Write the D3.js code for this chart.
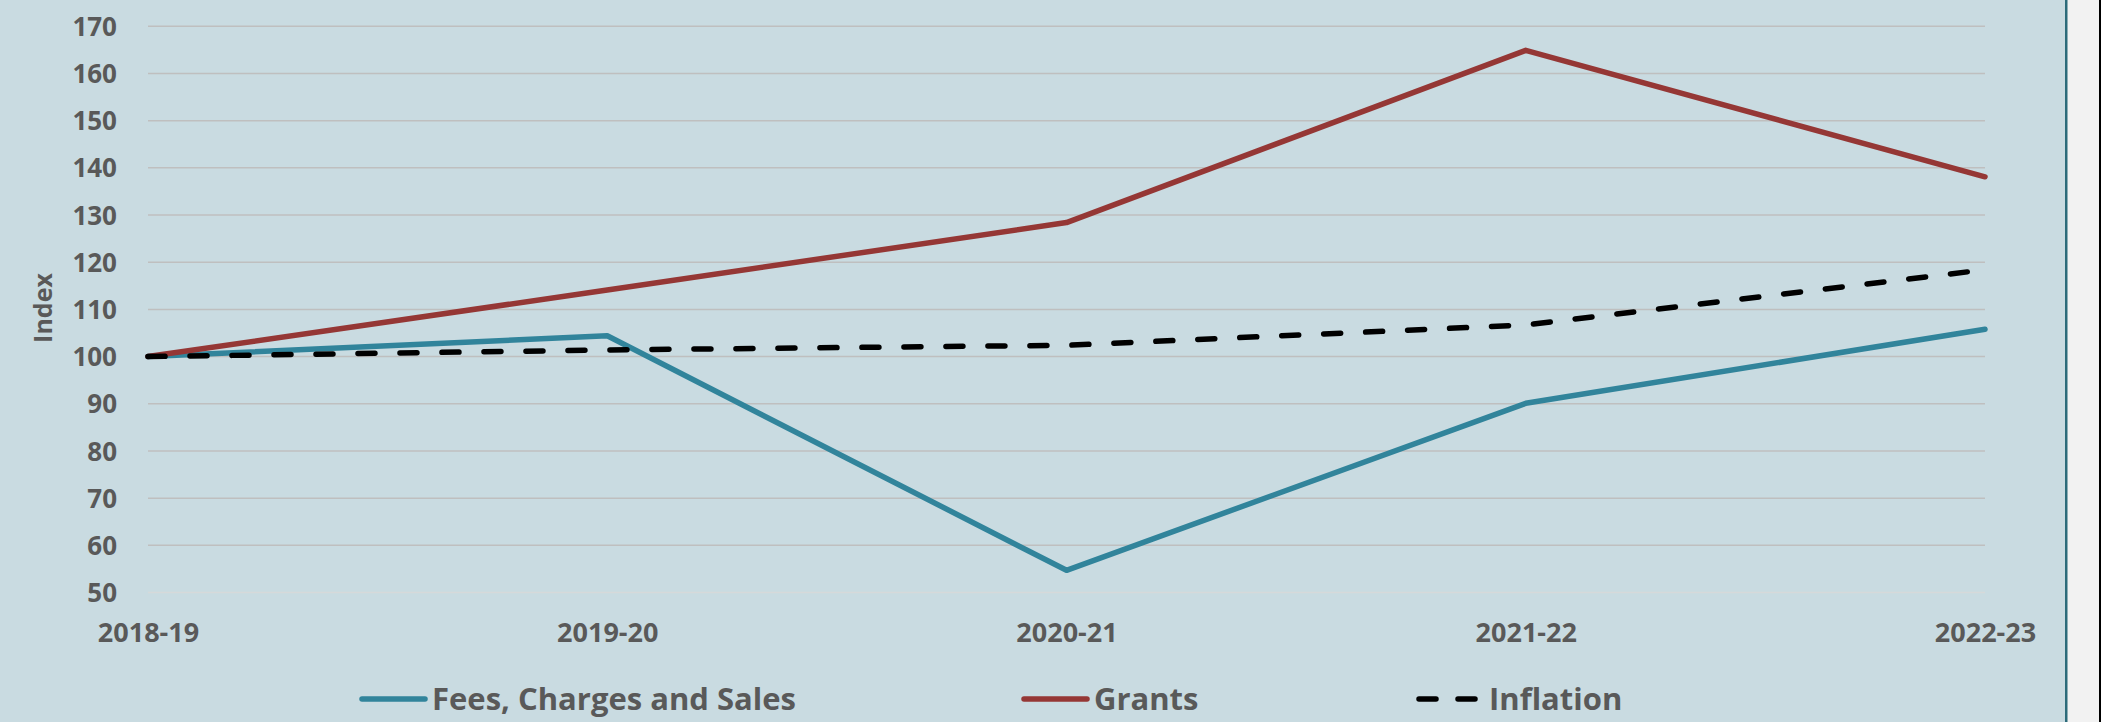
<!DOCTYPE html>
<html>
<head>
<meta charset="utf-8">
<script src="https://cdn.jsdelivr.net/npm/d3@7.9.0/dist/d3.min.js"></script>
<style>
    html, body { margin: 0; padding: 0; background: #f2f2f2; }
    svg { display: block; }
    text { font-family: "Open Sans", "DejaVu Sans", sans-serif; font-weight: bold; fill: #595959; }
</style>
</head>
<body>
<svg id="chart" width="2101" height="722"></svg>
<script>
// Data
const years = ['2018-19', '2019-20', '2020-21', '2021-22', '2022-23'];
const fees = [100, 104.4, 54.7, 90.1, 105.8];
const grants = [100, 114.1, 128.4, 164.9, 138.1];
const inflation = [100, 101.4, 102.4, 106.7, 118.4];
const yTicks = [50, 60, 70, 80, 90, 100, 110, 120, 130, 140, 150, 160, 170];

const series = [
    { name: 'Fees, Charges and Sales', values: fees, color: '#31849b', dash: null },
    { name: 'Grants', values: grants, color: '#953735', dash: null },
    { name: 'Inflation', values: inflation, color: '#000000', dash: '17 25' },
];

let svg = d3.select('#chart');

// panel background + right border
svg.append('rect').attr('x', 0).attr('y', 0).attr('width', 2066).attr('height', 722).attr('fill', '#c9dbe1');
svg.append('rect').attr('x', 2065).attr('y', 0).attr('width', 2.5).attr('height', 722).attr('fill', '#2c6b7a');
svg.append('rect').attr('x', 2099).attr('y', 0).attr('width', 2).attr('height', 722).attr('fill', '#000');

let x = d3.scalePoint().domain(years).range([148, 1985]);
let y = d3.scaleLinear().domain([50, 170]).range([592.5, 26.3]);

// gridlines
svg.append('g')
    .selectAll('line')
    .data(yTicks)
    .join('line')
    .attr('x1', 148)
    .attr('x2', 1985)
    .attr('y1', d => y(d))
    .attr('y2', d => y(d))
    .attr('stroke', d => d === 50 ? '#d6d9da' : '#bfbfbf')
    .attr('stroke-width', 1.5);

// y axis labels
let yAxis = svg.append('g')
    .attr('transform', 'translate(117,0)')
    .call(d3.axisLeft(y).tickValues(yTicks).tickSize(0).tickPadding(0));
yAxis.select('.domain').remove();
yAxis.selectAll('text')
    .attr('font-size', 26)
    .attr('font-family', null)
    .attr('dy', '0.35em');

// x axis labels
let xAxis = svg.append('g')
    .attr('transform', 'translate(0,633)')
    .call(d3.axisBottom(x).tickSize(0).tickPadding(0));
xAxis.select('.domain').remove();
xAxis.selectAll('text')
    .attr('font-size', 27)
    .attr('font-family', null)
    .attr('dy', '0.35em');

svg.append('text')
    .attr('transform', 'translate(43,308) rotate(-90)')
    .attr('text-anchor', 'middle')
    .attr('dy', '0.35em')
    .attr('font-size', 25)
    .text('Index');

// lines
let line = d3.line()
    .x((d, i) => x(years[i]))
    .y(d => y(d));

series.forEach(s => {
    svg.append('path')
        .datum(s.values)
        .attr('d', line)
        .attr('fill', 'none')
        .attr('stroke', s.color)
        .attr('stroke-width', 5.5)
        .attr('stroke-linecap', 'round')
        .attr('stroke-linejoin', 'round')
        .attr('stroke-dasharray', s.dash);
});

// legend
const legendX = [359, 1021, 1416];
let legend = svg.append('g').attr('transform', 'translate(0,699)');
series.forEach((s, i) => {
    let item = legend.append('g').attr('transform', `translate(${legendX[i]},0)`);
    item.append('line')
        .attr('x1', 3)
        .attr('x2', 66)
        .attr('y1', 0)
        .attr('y2', 0)
        .attr('stroke', s.color)
        .attr('stroke-width', 5.5)
        .attr('stroke-linecap', 'round')
        .attr('stroke-dasharray', s.dash ? '17 22' : null);
    item.append('text')
        .attr('x', 73)
        .attr('dy', '0.35em')
        .attr('font-size', 31)
        .text(s.name);
});
</script>
</body>
</html>
